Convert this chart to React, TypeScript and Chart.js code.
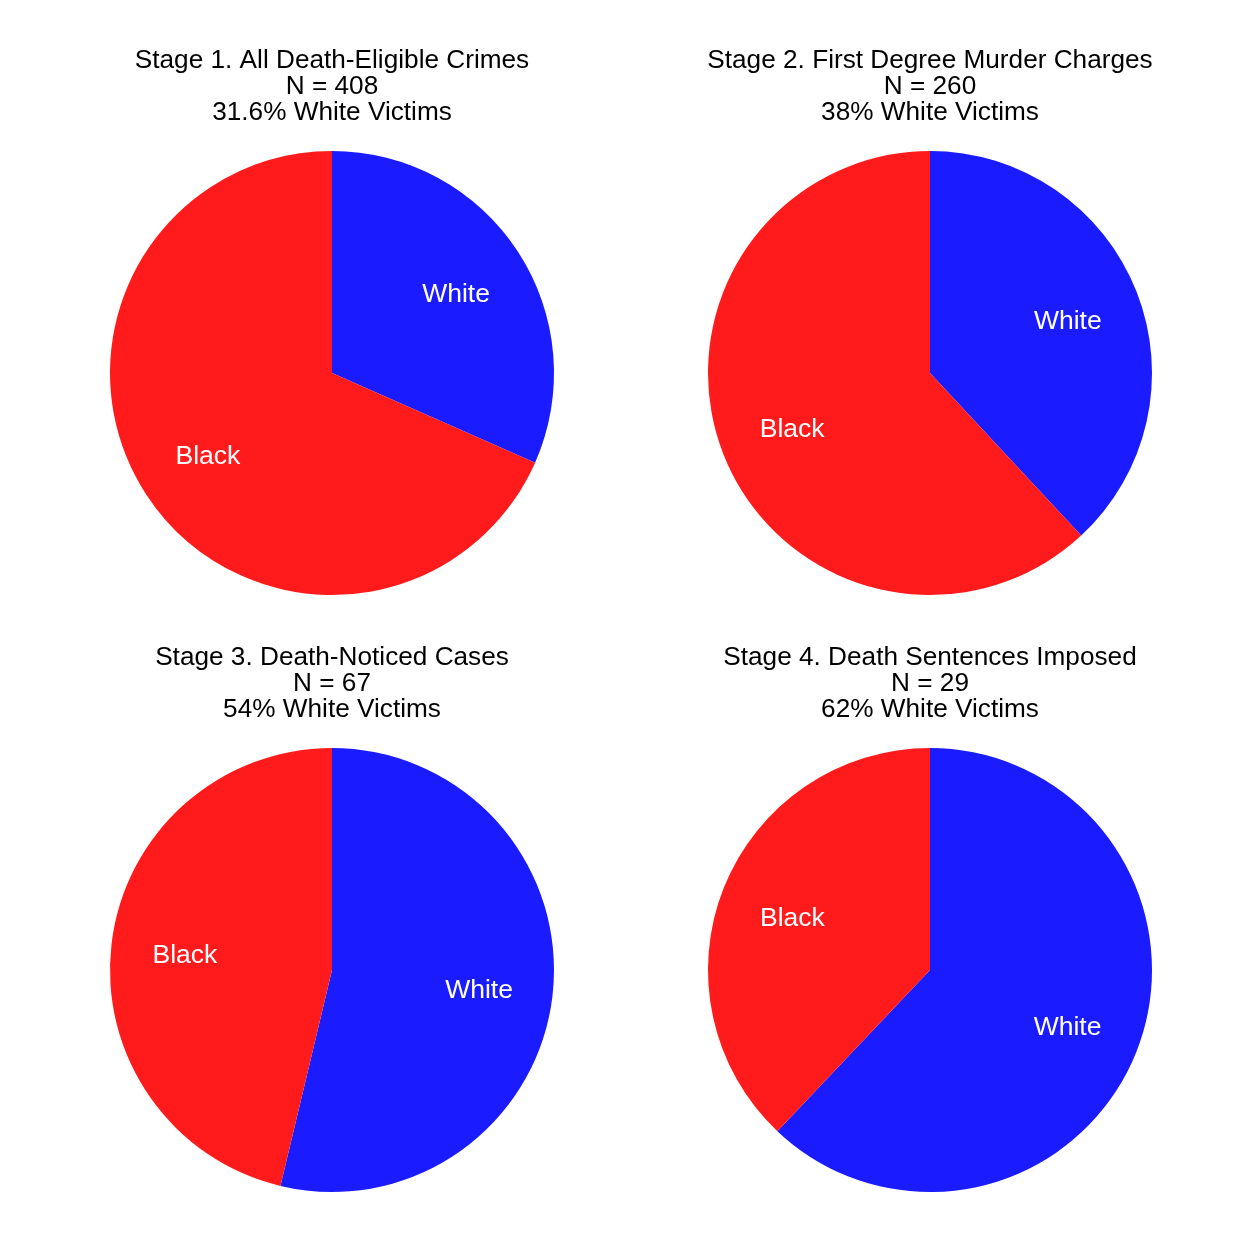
import React, { useEffect, useRef } from "react";
import { Chart, registerables } from "chart.js";

Chart.register(...registerables);

const stageTitles = [
  "Stage 1. All Death-Eligible Crimes",
  "Stage 2. First Degree Murder Charges",
  "Stage 3. Death-Noticed Cases",
  "Stage 4. Death Sentences Imposed",
];
const stageN = [408, 260, 67, 29];
const whitePctLabels = ["31.6%", "38%", "54%", "62%"];
const categories = ["White", "Black"];
const whiteCounts = [129, 99, 36, 18];
const blackCounts = [279, 161, 31, 11];
const sliceColors = ["#1B1BFF", "#FF1B1B"];

const FONT = "'Liberation Sans', Arial, sans-serif";

const labelPlugin = {
  id: "sliceLabels",
  afterDatasetsDraw(chart: any) {
    const ctx = chart.ctx;
    const meta = chart.getDatasetMeta(0);
    ctx.save();
    ctx.fillStyle = "#FFFFFF";
    ctx.font = `26.5px ${FONT}`;
    ctx.textAlign = "center";
    ctx.textBaseline = "middle";
    meta.data.forEach((arc: any, i: number) => {
      const p = arc.getProps(["x", "y", "startAngle", "endAngle", "outerRadius"], true);
      const mid = (p.startAngle + p.endAngle) / 2;
      const r = p.outerRadius * 0.667;
      ctx.fillText(chart.data.labels[i], p.x + Math.cos(mid) * r, p.y + Math.sin(mid) * r + 3);
    });
    ctx.restore();
  },
};

function PieChart({ idx }: { idx: number }) {
  const ref = useRef<HTMLCanvasElement>(null);
  useEffect(() => {
    if (!ref.current) return;
    const chart = new Chart(ref.current, {
      type: "pie",
      data: {
        labels: categories,
        datasets: [
          {
            data: [whiteCounts[idx], blackCounts[idx]],
            backgroundColor: sliceColors,
            borderWidth: 0,
            hoverOffset: 0,
          },
        ],
      },
      options: {
        animation: false,
        responsive: false,
        maintainAspectRatio: false,
        layout: { padding: { top: 0, bottom: 32, left: 0, right: 0 } },
        plugins: {
          legend: { display: false },
          tooltip: { enabled: false },
          title: {
            display: true,
            text: [
              stageTitles[idx],
              `N = ${stageN[idx]}`,
              `${whitePctLabels[idx]} White Victims`,
            ],
            color: "#000000",
            font: { family: FONT, size: 26.2, weight: "normal", lineHeight: 26 / 26.2 },
            padding: { top: 18, bottom: 25 },
          },
        },
      },
      plugins: [labelPlugin],
    });
    return () => chart.destroy();
  }, [idx]);
  return <canvas ref={ref} width={598} height={597} style={{ width: 598, height: 597, display: "block" }} />;
}

const centersX = [332, 930, 332, 930];
const tops = [30, 30, 627, 627];

export default function App() {
  return (
    <div style={{ position: "relative", width: 1238, height: 1231 }}>
      {[0, 1, 2, 3].map((i) => (
        <div
          key={i}
          style={{ position: "absolute", left: centersX[i] - 299 - 8, top: tops[i] - 8, width: 598, height: 597 }}
        >
          <PieChart idx={i} />
        </div>
      ))}
    </div>
  );
}
